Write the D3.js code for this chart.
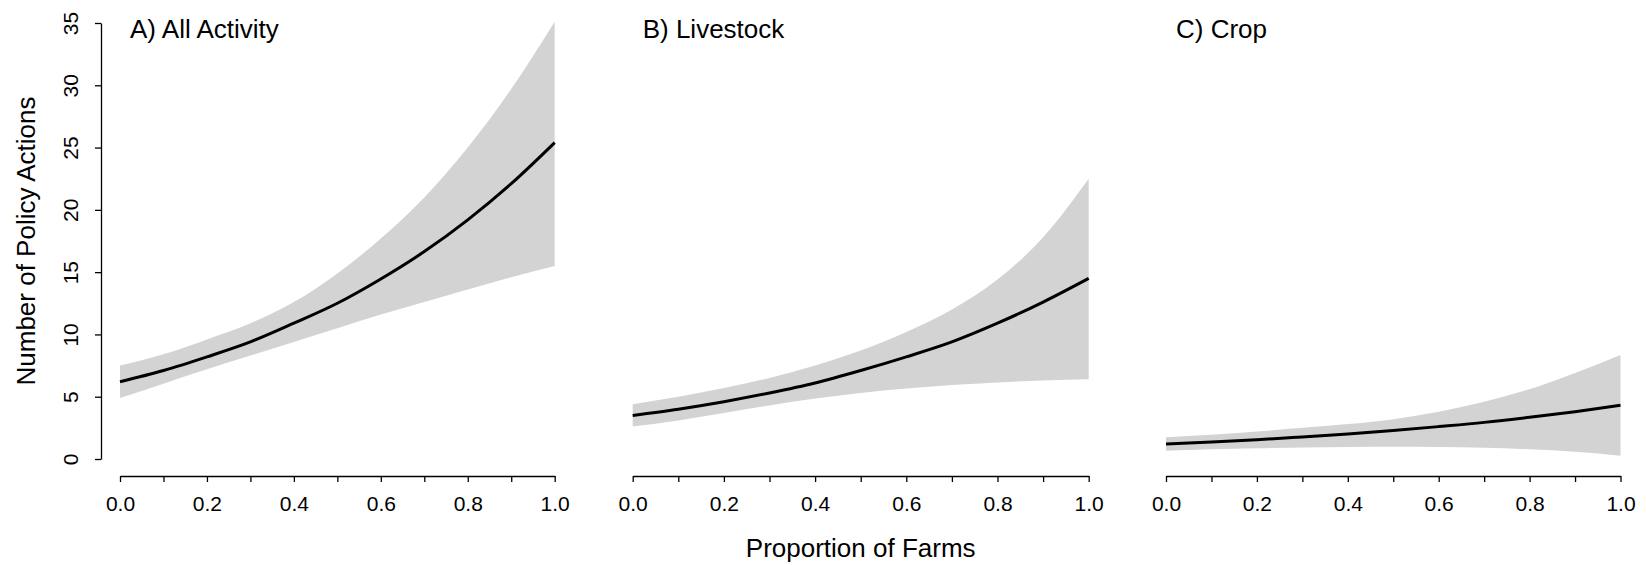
<!DOCTYPE html>
<html lang="en">
<head>
	<meta charset="utf-8">
	<style type="text/css">
		body { margin: 0; background: white; }
		text { font-family: "Liberation Sans", Arial, sans-serif; fill: black; }
	</style>
</head>
<body>
<script src="https://d3js.org/d3.v7.min.js" type="text/javascript"></script>
<script type="text/javascript">
// proportion of farms, read at 0.1 steps
var props = [0, 0.1, 0.2, 0.3, 0.4, 0.5, 0.6, 0.7, 0.8, 0.9, 1.0];

// A) All Activity
var allMean  = [6.2, 7.1, 8.2, 9.4, 10.9, 12.5, 14.45, 16.65, 19.2, 22.1, 25.4];
var allUpper = [7.5, 8.4, 9.6, 10.9, 12.6, 14.9, 17.7, 21.0, 25.0, 29.7, 35.1];
var allLower = [4.9, 6.05, 7.2, 8.3, 9.4, 10.5, 11.6, 12.6, 13.6, 14.6, 15.5];

// B) Livestock
var livMean  = [3.5, 4.0, 4.6, 5.3, 6.1, 7.1, 8.2, 9.4, 10.9, 12.6, 14.5];
var livUpper = [4.4, 5.0, 5.7, 6.5, 7.5, 8.7, 10.2, 12.0, 14.4, 17.8, 22.5];
var livLower = [2.6, 3.1, 3.7, 4.3, 4.85, 5.3, 5.65, 5.95, 6.15, 6.3, 6.4];

// C) Crop
var cropMean  = [1.2, 1.37, 1.55, 1.77, 2.0, 2.28, 2.6, 2.94, 3.35, 3.8, 4.31];
var cropUpper = [1.75, 1.95, 2.2, 2.5, 2.8, 3.2, 3.8, 4.6, 5.6, 6.9, 8.35];
var cropLower = [0.67, 0.78, 0.87, 0.93, 0.97, 0.98, 0.96, 0.9, 0.78, 0.58, 0.27];

var titles = ["A) All Activity", "B) Livestock", "C) Crop"];
var xTicks = [0, 0.1, 0.2, 0.3, 0.4, 0.5, 0.6, 0.7, 0.8, 0.9, 1.0];
var yTicks = [0, 5, 10, 15, 20, 25, 30, 35];

var panels = [
	{title: titles[0], mean: allMean, upper: allUpper, lower: allLower},
	{title: titles[1], mean: livMean, upper: livUpper, lower: livLower},
	{title: titles[2], mean: cropMean, upper: cropUpper, lower: cropLower}
];

var width = 1646, height = 565;
// pixel span of x=0..1 for each panel
var spans = [[120, 554.7], [632.7, 1088.7], [1166, 1620.5]];
var xAxisY = 476, yAxisX = 101, tickLen = 6;

var y = d3.scaleLinear().domain([0, 35]).range([459, 23]);

var svg = d3.select("body")
	.append("svg")
	.attr("width", width)
	.attr("height", height);

panels.forEach(function (p, i) {
	var x = d3.scaleLinear().domain([0, 1]).range(spans[i]);
	var g = svg.append("g");

	var area = d3.area()
		.x(function (d, j) { return x(props[j]); })
		.y0(function (d, j) { return y(p.lower[j]); })
		.y1(function (d, j) { return y(p.upper[j]); })
		.curve(d3.curveMonotoneX);

	g.append("path")
		.datum(p.mean)
		.attr("d", area)
		.attr("fill", "#d3d3d3")
		.attr("stroke", "none");

	var line = d3.line()
		.x(function (d, j) { return x(props[j]); })
		.y(function (d) { return y(d); })
		.curve(d3.curveMonotoneX);

	g.append("path")
		.datum(p.mean)
		.attr("d", line)
		.attr("fill", "none")
		.attr("stroke", "black")
		.attr("stroke-width", 3);

	// x axis
	var xa = g.append("g")
		.attr("transform", "translate(0," + xAxisY + ")")
		.call(d3.axisBottom(x)
			.tickValues(xTicks)
			.tickSize(tickLen)
			.tickSizeOuter(0)
			.tickPadding(14)
			.tickFormat(function (d) {
				var k = Math.round(d * 10);
				return k % 2 === 0 ? d3.format(".1f")(d) : "";
			}));
	xa.select(".domain").attr("stroke-width", 1.3);
	xa.selectAll(".tick line").attr("stroke-width", 1.3);
	xa.selectAll("text")
		.attr("font-size", 21)
		.style("font-family", "Liberation Sans, Arial, sans-serif");

	g.append("text")
		.attr("x", spans[i][0] + 10)
		.attr("y", 38)
		.attr("font-size", 26)
		.text(p.title);
});

// y axis (first panel only)
var ya = svg.append("g")
	.attr("transform", "translate(" + yAxisX + ",0)")
	.call(d3.axisLeft(y)
		.tickValues(yTicks)
		.tickSize(tickLen)
		.tickSizeOuter(0)
		.tickFormat(d3.format("d")));
ya.select(".domain").attr("stroke-width", 1.3);
ya.selectAll(".tick line").attr("stroke-width", 1.3);
ya.selectAll(".tick text")
	.attr("x", null).attr("dy", null)
	.attr("transform", "translate(-23,0) rotate(-90)")
	.attr("text-anchor", "middle")
	.attr("font-size", 21)
	.style("font-family", "Liberation Sans, Arial, sans-serif");

svg.append("text")
	.attr("transform", "translate(35,241) rotate(-90)")
	.attr("text-anchor", "middle")
	.attr("font-size", 26)
	.text("Number of Policy Actions");

svg.append("text")
	.attr("x", (spans[1][0] + spans[1][1]) / 2)
	.attr("y", 557)
	.attr("text-anchor", "middle")
	.attr("font-size", 26)
	.text("Proportion of Farms");
</script>
</body>
</html>
